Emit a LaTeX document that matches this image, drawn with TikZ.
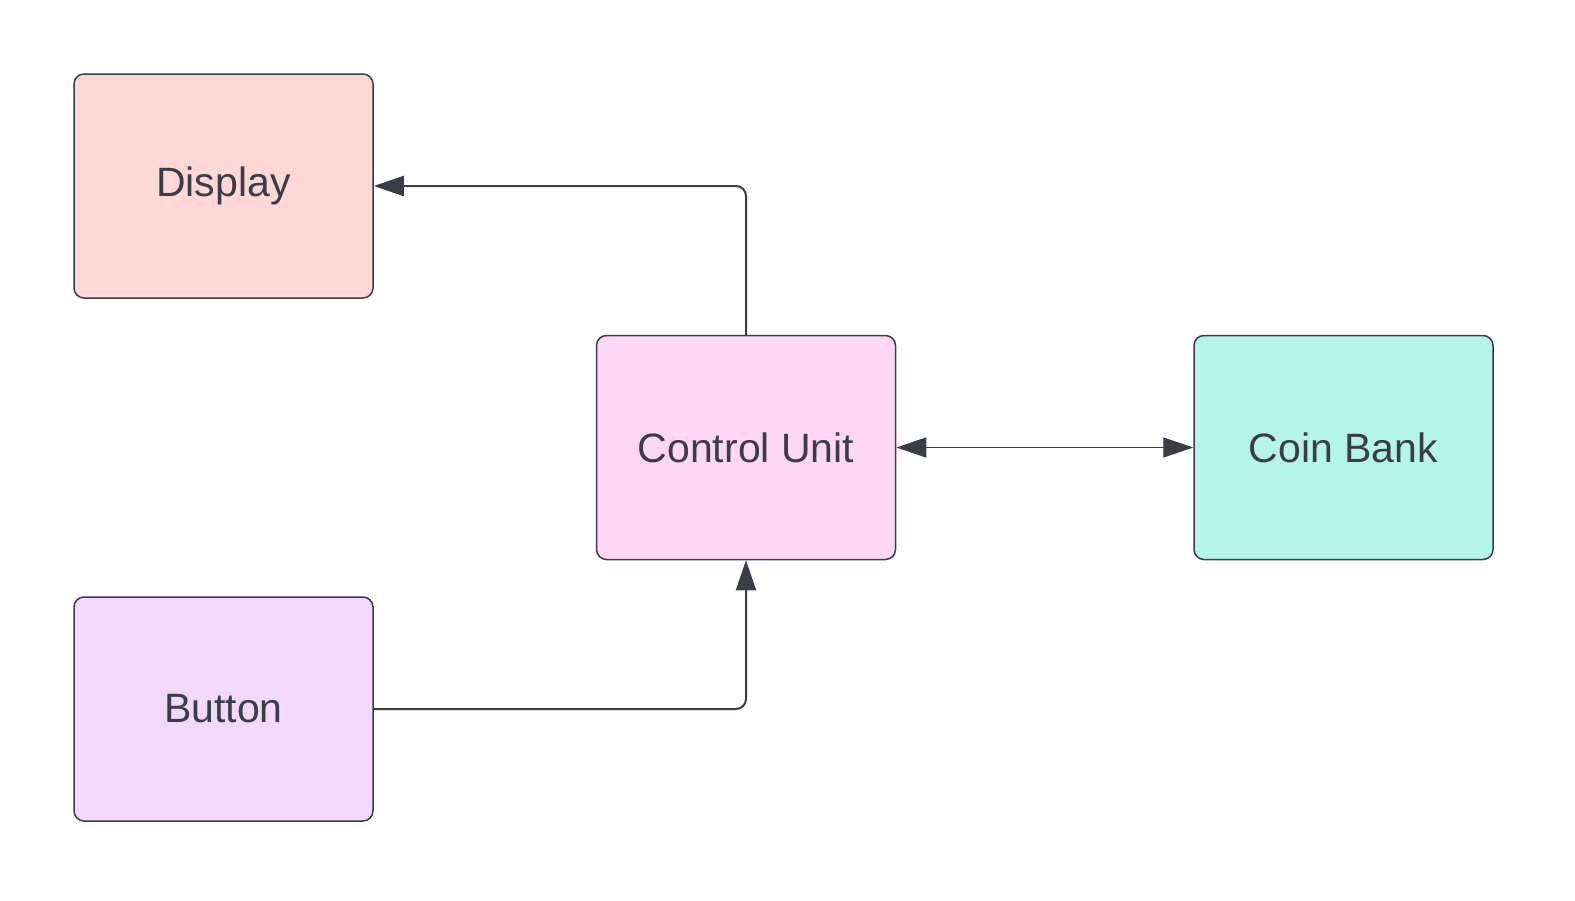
\documentclass[tikz,border=0pt]{standalone}
\usepackage{fontspec}
\setmainfont{Liberation Sans}
\usetikzlibrary{arrows.meta}
\definecolor{ink}{HTML}{3A3D47}
\definecolor{dispfill}{HTML}{FFD7D7}
\definecolor{ctrlfill}{HTML}{FDD6F6}
\definecolor{coinfill}{HTML}{B4F4EA}
\definecolor{btnfill}{HTML}{F1D8FC}

\begin{document}
\begin{tikzpicture}
            [x=0.5pt,y=-0.5pt,
             every node/.style={draw=ink,line width=0.75pt,rounded corners=5pt,
               minimum width=149.5pt,minimum height=112pt,inner sep=0pt,
               text=ink,font=\fontsize{20.5}{24}\selectfont},
             link/.style={draw=ink,line width=1pt,rounded corners=5pt,
               -{Triangle[length=15pt,width=10pt]}}]
            \useasboundingbox (0,0) rectangle (1575,900);
            \node[fill=dispfill] (display) at (223.5,186) {Display};
            \node[fill=ctrlfill] (control) at (746,447.5) {Control Unit};
            \node[fill=coinfill] (coin) at (1343.5,447.5) {Coin Bank};
            \node[fill=btnfill] (button) at (223.5,709) {Button};
            % control to display
            \draw[link] (control.north) |- (display.east);
            % button to control
            \draw[link] (button.east) -| (control.south);
            % control and coin bank
            \draw[link,line width=0.7pt,{Triangle[length=15pt,width=10pt]}-{Triangle[length=15pt,width=10pt]}] (control) -- (coin);
        \end{tikzpicture}
\end{document}
